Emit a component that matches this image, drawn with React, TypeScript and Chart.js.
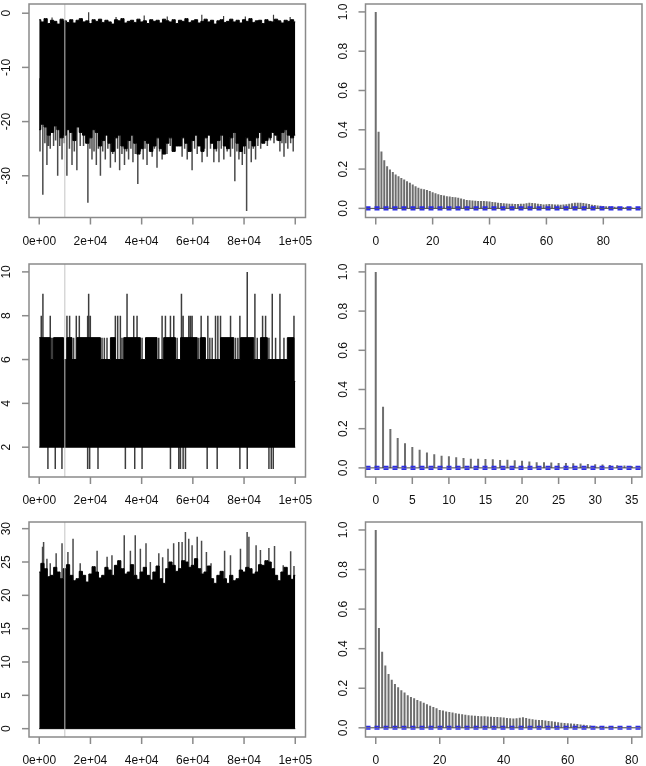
import React, { useEffect, useRef } from "react";
import { Chart, registerables } from "chart.js";
Chart.register(...registerables);

// ---------- x grid for the trace envelopes (every 1250 iterations) ----------
const traceX = [0, 1250, 2500, 3750, 5000, 6250, 7500, 8750, 10000, 11250, 12500, 13750, 15000, 16250, 17500, 18750, 20000, 21250, 22500, 23750, 25000, 26250, 27500, 28750, 30000, 31250, 32500, 33750, 35000, 36250, 37500, 38750, 40000, 41250, 42500, 43750, 45000, 46250, 47500, 48750, 50000, 51250, 52500, 53750, 55000, 56250, 57500, 58750, 60000, 61250, 62500, 63750, 65000, 66250, 67500, 68750, 70000, 71250, 72500, 73750, 75000, 76250, 77500, 78750, 80000, 81250, 82500, 83750, 85000, 86250, 87500, 88750, 90000, 91250, 92500, 93750, 95000, 96250, 97500, 98750, 100000];
const burnIn = 10000;
const traceTicks = [0, 20000, 40000, 60000, 80000, 100000];
const traceTickLabels = ["0e+00", "2e+04", "4e+04", "6e+04", "8e+04", "1e+05"];

// ---------- panel 1 : trace ----------
const p1CoreHi = [-1.2, -1.6, -1.0, -1.9, -1.3, -1.5, -2.0, -1.1, -1.4, -1.7, -1.2, -1.8, -1.3, -1.0, -1.6, -1.4, -1.9, -1.2, -1.5, -1.1, -1.7, -1.3, -1.6, -2.0, -1.2, -1.4, -1.0, -1.8, -1.5, -1.3, -1.7, -1.1, -1.6, -1.4, -1.9, -1.2, -1.5, -1.3, -1.8, -1.1, -1.4, -1.6, -1.2, -1.9, -1.3, -1.5, -1.0, -1.7, -1.4, -1.2, -1.8, -1.5, -1.1, -1.6, -1.3, -2.0, -1.4, -1.2, -1.7, -1.5, -1.1, -1.6, -1.3, -1.8, -1.2, -1.5, -1.0, -1.7, -1.4, -1.3, -1.9, -1.2, -1.5, -1.6, -1.1, -1.4, -1.8, -1.3, -1.5, -1.2, -1.6];
const p1CoreLo = [-21.5, -20.5, -21, -22.5, -22, -20.8, -21.5, -23, -22.5, -21.5, -22, -23.5, -21, -22, -22.5, -24, -23, -21.5, -22, -24.5, -23.5, -22.5, -24, -25.5, -23, -22.5, -24.5, -25, -23.5, -22.5, -24, -26, -25, -23.5, -24, -25.5, -24.5, -23, -25, -26, -24, -23, -25.5, -24.5, -24.5, -23, -24, -25.5, -23.5, -22.5, -24.5, -25.5, -23, -22.5, -24, -25, -23.5, -22.5, -24.5, -25, -23, -22, -24, -25.5, -24.5, -23, -23.5, -24.5, -23, -22, -24, -23.5, -23, -22, -22.5, -23.5, -22, -21.5, -22.5, -23, -22.5];
const p1DownX = [300, 1400, 2200, 3000, 3600, 4300, 5600, 6400, 7200, 8000, 8900, 9800, 10800, 11800, 12800, 13700, 14700, 16000, 17300, 19000, 19800, 20600, 21400, 22300, 23100, 23900, 24800, 25800, 26800, 27800, 28700, 29700, 30600, 31400, 32300, 33300, 34100, 34900, 35800, 36600, 37500, 38500, 39500, 40600, 41300, 42100, 43100, 44100, 45000, 46000, 47000, 48000, 49000, 49900, 51200, 52600, 54200, 55800, 56800, 57800, 58700, 59700, 60700, 61700, 62600, 63600, 64600, 65600, 66900, 68200, 69200, 70200, 71100, 72100, 73400, 74700, 75500, 76400, 77200, 78000, 78600, 79300, 80200, 81000, 81900, 82800, 83600, 84500, 85400, 86500, 87700, 89100, 90300, 91700, 92800, 94000, 94800, 95600, 96300, 97100, 98200, 99200];
const p1DownY = [-25.5, -33.5, -24, -28, -24.5, -25, -24.5, -23.5, -30, -24.5, -27, -24, -30, -25, -28, -25.5, -29, -24.5, -24.5, -35, -25, -27, -25.5, -28, -25, -30, -25.5, -27, -25, -28.5, -26, -27.5, -25, -29, -26, -28, -25.5, -27, -25, -27.5, -26, -31.5, -25.5, -27, -25, -28, -25.5, -26.5, -25, -28.5, -25.5, -27, -25, -26, -24.5, -25.5, -24.5, -26.5, -25, -27, -25.5, -29, -25, -26, -24.5, -27.5, -25, -26.5, -25, -27.5, -25.5, -27.5, -25, -27, -25.5, -26.5, -25, -31, -25.5, -27, -25.5, -28, -26, -36.5, -25, -27.5, -25, -27, -24.5, -25, -24, -24.5, -23.5, -24, -23.5, -25.5, -24, -26.5, -24, -25, -24, -25.5];
const p1UpX = [5000, 19300, 30000, 41000, 50000, 63500, 72000, 80500, 91500, 98000];
const p1UpY = [-0.8, 0.2, -0.7, -0.4, -0.6, -0.3, -0.5, -0.6, -0.3, -0.7];
const p1YTicks = [0, -10, -20, -30];
const p1YLabels = ["0", "-10", "-20", "-30"];

// ---------- panel 3 : trace (discrete) ----------
const p3TopX = [0, 4300, 5600, 9500, 10800, 12800, 14700, 23900, 27800, 29700, 33000, 39500, 41500, 46000, 48600, 53200, 55200, 61700, 63000, 64900, 70800, 76000, 78600, 83800, 86400, 89100, 96900, 99500, 100000];
const p3TopY = [7, 6, 7, 6, 7, 6, 7, 6, 7, 6, 7, 6, 7, 6, 7, 6, 7, 6, 7, 6, 7, 6, 7, 6, 7, 6, 7, 5, 5];
const p3UpX = [782, 1434, 4303, 4694, 5216, 10823, 11866, 13431, 14474, 15648, 18908, 19299, 19951, 24515, 25428, 26471, 29731, 30644, 31687, 32339, 34295, 36903, 38207, 40163, 46683, 47987, 49291, 51247, 52551, 53855, 55550, 56202, 58419, 59071, 59723, 62331, 63244, 65852, 66634, 67547, 68851, 69764, 70807, 74719, 76675, 77588, 78370, 81239, 84238, 85151, 87238, 88412, 89715, 91019, 92323, 94018, 95584, 99495];
const p3UpY = [8, 9, 8, 7, 7, 8, 8, 7, 8, 8, 8, 9, 8, 7, 7, 7, 8, 8, 8, 7, 9, 8, 8, 7, 7, 8, 8, 8, 8, 7, 9, 8, 8, 8, 8, 7, 8, 8, 7, 7, 8, 8, 8, 8, 7, 7, 8, 10, 9, 7, 8, 8, 7, 9, 7, 9, 7, 8];
const p3DownX = [3390, 6259, 8867, 18908, 19690, 22950, 33643, 37294, 40163, 51247, 54507, 55159, 56202, 57115, 65591, 69503, 78370, 81239, 89715, 90628, 91410];
const p3YTicks = [2, 4, 6, 8, 10];
const p3YLabels = ["2", "4", "6", "8", "10"];

// ---------- panel 5 : trace ----------
const p5CoreHi = [23.5, 24.8, 24, 22.8, 23, 24.2, 23.5, 22.5, 24, 24.6, 23, 22.2, 22.5, 23.6, 23, 22, 23.2, 24.3, 23.5, 22.6, 23, 24.2, 23.8, 23, 24.5, 25.2, 24, 23.2, 23.5, 24.6, 23, 22.4, 23.5, 24.2, 23, 22.3, 23.5, 24.4, 22.5, 21.8, 24, 25, 24.5, 23.6, 24, 25.2, 25, 24.2, 24.5, 25.5, 24, 23.2, 23.5, 24.4, 22.5, 21.8, 23, 23.6, 22.5, 21.8, 23, 22.2, 22.5, 23.8, 23.5, 24.2, 24, 23.2, 23.5, 24.6, 24.5, 25.2, 25, 24, 23, 22.2, 23.5, 24.2, 23, 22.4, 23];
const p5UpX = [1300, 1700, 3000, 4300, 6600, 8900, 11200, 13200, 16000, 22600, 26500, 28400, 33200, 35600, 37500, 39500, 41700, 43400, 46700, 48200, 50300, 52500, 54500, 55800, 57100, 58400, 59700, 61700, 63400, 65300, 67100, 72400, 74700, 78600, 81200, 81900, 84700, 86400, 89700, 91900, 95300, 98200, 99500];
const p5UpY = [27.3, 28, 25.5, 24.8, 26.3, 27.8, 26.5, 28.5, 24.8, 26.7, 25.8, 26, 29, 26.7, 29, 27, 27.8, 25, 26.3, 25.7, 27, 27.8, 28, 28, 29.5, 28.5, 27.5, 28.8, 28.2, 26.5, 24.8, 26.7, 26, 27, 29.5, 28.8, 27.5, 26.8, 27.1, 27.4, 24.5, 26.6, 24.4];
const p5YTicks = [0, 5, 10, 15, 20, 25, 30];
const p5YLabels = ["0", "5", "10", "15", "20", "25", "30"];

// ---------- ACF panels ----------
const acf2 = [1.0, 0.39, 0.29, 0.245, 0.215, 0.198, 0.185, 0.173, 0.163, 0.155, 0.147, 0.138, 0.13, 0.122, 0.112, 0.105, 0.1, 0.097, 0.093, 0.088, 0.082, 0.077, 0.072, 0.068, 0.065, 0.062, 0.06, 0.058, 0.056, 0.054, 0.05, 0.046, 0.043, 0.041, 0.04, 0.039, 0.038, 0.038, 0.037, 0.036, 0.035, 0.033, 0.031, 0.029, 0.027, 0.026, 0.025, 0.024, 0.023, 0.022, 0.022, 0.023, 0.024, 0.026, 0.028, 0.027, 0.026, 0.024, 0.022, 0.02, 0.021, 0.022, 0.021, 0.02, 0.02, 0.019, 0.02, 0.021, 0.023, 0.026, 0.028, 0.029, 0.028, 0.027, 0.025, 0.022, 0.019, 0.017, 0.015, 0.013, 0.012, 0.011, 0.01, 0.009, 0.008, 0.008, 0.007, 0.006, 0.006, 0.005, 0.005];
const acf4 = [1.0, 0.312, 0.199, 0.152, 0.126, 0.106, 0.093, 0.079, 0.069, 0.062, 0.059, 0.054, 0.05, 0.046, 0.046, 0.045, 0.044, 0.04, 0.042, 0.039, 0.037, 0.032, 0.029, 0.029, 0.027, 0.025, 0.025, 0.024, 0.022, 0.02, 0.019, 0.017, 0.015, 0.013, 0.012, 0.01];
const acf6 = [1.0, 0.505, 0.385, 0.315, 0.272, 0.243, 0.222, 0.205, 0.19, 0.178, 0.165, 0.156, 0.149, 0.141, 0.134, 0.126, 0.119, 0.112, 0.105, 0.099, 0.09, 0.087, 0.083, 0.08, 0.077, 0.074, 0.071, 0.068, 0.066, 0.064, 0.062, 0.061, 0.06, 0.059, 0.058, 0.057, 0.056, 0.055, 0.054, 0.053, 0.052, 0.05, 0.048, 0.047, 0.048, 0.051, 0.053, 0.05, 0.046, 0.043, 0.041, 0.04, 0.039, 0.037, 0.035, 0.033, 0.031, 0.028, 0.026, 0.024, 0.023, 0.022, 0.021, 0.019, 0.017, 0.015, 0.013, 0.011, 0.009, 0.008, 0.007, 0.006, 0.005, 0.005, 0.004, 0.004, 0.003, 0.003, 0.002, 0.002, 0.002];
const ciBound = 0.0062;
const acfYTicks = [0, 0.2, 0.4, 0.6, 0.8, 1.0];
const acfYLabels = ["0.0", "0.2", "0.4", "0.6", "0.8", "1.0"];
const acf2XTicks = [0, 20, 40, 60, 80];
const acf4XTicks = [0, 5, 10, 15, 20, 25, 30, 35];
const acf6XTicks = [0, 20, 40, 60, 80];

// ---------- helpers ----------
const FONT = '12px "Liberation Sans", Arial, Helvetica, sans-serif';

const rAxes = {
  id: "rAxes",
  afterDraw(chart: any, _a: any, opts: any) {
    const { ctx, chartArea: a } = chart;
    const xs = chart.scales.x;
    const ys = chart.scales.y;
    ctx.save();
    ctx.strokeStyle = "#8a8a8a";
    ctx.lineWidth = 1.5;
    ctx.strokeRect(a.left, a.top, a.right - a.left, a.bottom - a.top);
    ctx.fillStyle = "#111";
    ctx.font = FONT;
    ctx.textAlign = "center";
    ctx.textBaseline = "middle";
    opts.xTicks.forEach((v: number, i: number) => {
      const px = xs.getPixelForValue(v);
      ctx.beginPath();
      ctx.moveTo(px, a.bottom);
      ctx.lineTo(px, a.bottom + 7);
      ctx.stroke();
      ctx.fillText(opts.xLabels[i], px, a.bottom + 24);
    });
    opts.yTicks.forEach((v: number, i: number) => {
      const py = ys.getPixelForValue(v);
      ctx.beginPath();
      ctx.moveTo(a.left, py);
      ctx.lineTo(a.left - 7, py);
      ctx.stroke();
      ctx.save();
      ctx.translate(a.left - 22, py);
      ctx.rotate(-Math.PI / 2);
      ctx.fillText(opts.yLabels[i], 0, 0);
      ctx.restore();
    });
    ctx.restore();
  },
};

function segs(xs: number[], base: number, tips: number[]) {
  const out: any[] = [];
  xs.forEach((x, i) => {
    out.push({ x, y: base });
    out.push({ x, y: tips[i] });
    out.push({ x, y: null });
  });
  return out;
}

function pts(xs: number[], ys: number[]) {
  return xs.map((x, i) => ({ x, y: ys[i] }));
}

function line(data: any[], color: string, width: number, order: number, extra: any = {}) {
  return {
    data,
    borderColor: color,
    borderWidth: width,
    pointRadius: 0,
    fill: false,
    tension: 0,
    spanGaps: false,
    order,
    ...extra,
  };
}

function baseConfig(datasets: any[], xr: number[], yr: number[], pad: any, axes: any) {
  return {
    type: "line",
    data: { datasets },
    options: {
      animation: false,
      responsive: false,
      devicePixelRatio: 1,
      events: [],
      layout: { padding: pad },
      scales: {
        x: { type: "linear", display: false, min: xr[0], max: xr[1] },
        y: { type: "linear", display: false, min: yr[0], max: yr[1] },
      },
      plugins: { legend: { display: false }, tooltip: { enabled: false }, rAxes: axes },
    },
    plugins: [rAxes],
  };
}

const TRACE_X = [-4000, 104000];
const PAD_L = { left: 29, right: 17.5 };
const PAD_R = { left: 42.5, right: 4 };

function traceCfg(yr: number[], layers: any[], yTicks: number[], yLabels: string[], pad: any) {
  const datasets = [
    line([{ x: burnIn, y: yr[0] }, { x: burnIn, y: yr[1] }], "#c4c4c4", 1, 0),
    ...layers,
  ];
  return baseConfig(datasets, TRACE_X, yr, pad, {
    xTicks: traceTicks,
    xLabels: traceTickLabels,
    yTicks,
    yLabels,
  });
}

function acfCfg(vals: number[], xr: number[], xTicks: number[], pad: any) {
  const lags = vals.map((_, i) => i);
  const datasets = [
    line([{ x: xr[0], y: ciBound }, { x: xr[1], y: ciBound }], "#2b2be8", 1.6, 0, { borderDash: [5, 4] }),
    line([{ x: xr[0], y: -ciBound }, { x: xr[1], y: -ciBound }], "#2b2be8", 1.6, 0, { borderDash: [5, 4] }),
    line([{ x: xr[0], y: 0 }, { x: xr[1], y: 0 }], "#444", 1, 1),
    line(segs(lags, 0, vals), "#6e6e6e", 2, 2),
  ];
  return baseConfig(datasets, xr, [-0.0465, 1.0403], pad, {
    xTicks,
    xLabels: xTicks.map(String),
    yTicks: acfYTicks,
    yLabels: acfYLabels,
  });
}

const panels = [
  {
    key: "p1", left: 0, top: 0, w: 323, h: 256,
    build: () =>
      traceCfg(
        [-37.7, 1.7],
        [
          line(pts(traceX, p1CoreLo), "#000", 1, 1, { stepped: "middle" }),
          line(pts(traceX, p1CoreHi), "#000", 1, 1, { fill: "-1", backgroundColor: "#000", stepped: "middle" }),
          line(segs(p1DownX, -12, p1DownY), "#4a4a4a", 1.5, 2),
          line(segs(p1UpX, -5, p1UpY), "#3a3a3a", 1.2, 2),
        ],
        p1YTicks, p1YLabels, { ...PAD_L, top: 4, bottom: 38.5 }
      ),
  },
  {
    key: "p2", left: 323, top: 0, w: 323, h: 256,
    build: () => acfCfg(acf2, [-3.6, 93.6], acf2XTicks, { ...PAD_R, top: 4, bottom: 38.5 }),
  },
  {
    key: "p3", left: 0, top: 256, w: 323, h: 256,
    build: () =>
      traceCfg(
        [0.64, 10.36],
        [
          line([{ x: 0, y: 2 }, { x: 100000, y: 2 }], "#000", 1, 1),
          line(pts(p3TopX, p3TopY), "#000", 1, 1, { fill: "-1", backgroundColor: "#000", stepped: true }),
          line(segs(p3UpX, 5, p3UpY), "#3c3c3c", 1.5, 2),
          line(segs(p3DownX, 3, p3DownX.map(() => 1)), "#3c3c3c", 1.5, 2),
        ],
        p3YTicks, p3YLabels, { ...PAD_L, top: 8, bottom: 35 }
      ),
  },
  {
    key: "p4", left: 323, top: 256, w: 323, h: 256,
    build: () => acfCfg(acf4, [-1.4, 36.4], acf4XTicks, { ...PAD_R, top: 8, bottom: 35 }),
  },
  {
    key: "p5", left: 0, top: 512, w: 323, h: 254,
    build: () =>
      traceCfg(
        [-1.25, 31],
        [
          line([{ x: 0, y: 0 }, { x: 100000, y: 0 }], "#000", 1, 1),
          line(pts(traceX, p5CoreHi), "#000", 1, 1, { fill: "-1", backgroundColor: "#000", stepped: "middle" }),
          line(segs(p5UpX, 15, p5UpY), "#4a4a4a", 1.5, 2),
        ],
        p5YTicks, p5YLabels, { ...PAD_L, top: 10, bottom: 29 }
      ),
  },
  {
    key: "p6", left: 323, top: 512, w: 323, h: 254,
    build: () => acfCfg(acf6, [-3.2, 83.2], acf6XTicks, { ...PAD_R, top: 10, bottom: 29 }),
  },
];

function Panel({ left, top, w, h, build }: any) {
  const ref = useRef<HTMLCanvasElement>(null);
  useEffect(() => {
    const chart = new Chart(ref.current as HTMLCanvasElement, build() as any);
    return () => chart.destroy();
  }, []);
  return (
    <canvas
      ref={ref}
      width={w}
      height={h}
      style={{ position: "absolute", left, top, width: w, height: h, display: "block" }}
    />
  );
}

export default function App() {
  return (
    <div
      style={{
        position: "fixed",
        left: 0,
        top: 0,
        width: 646,
        height: 766,
        overflow: "hidden",
        background: "#fff",
      }}
    >
      {panels.map((p) => (
        <Panel key={p.key} {...p} />
      ))}
    </div>
  );
}
